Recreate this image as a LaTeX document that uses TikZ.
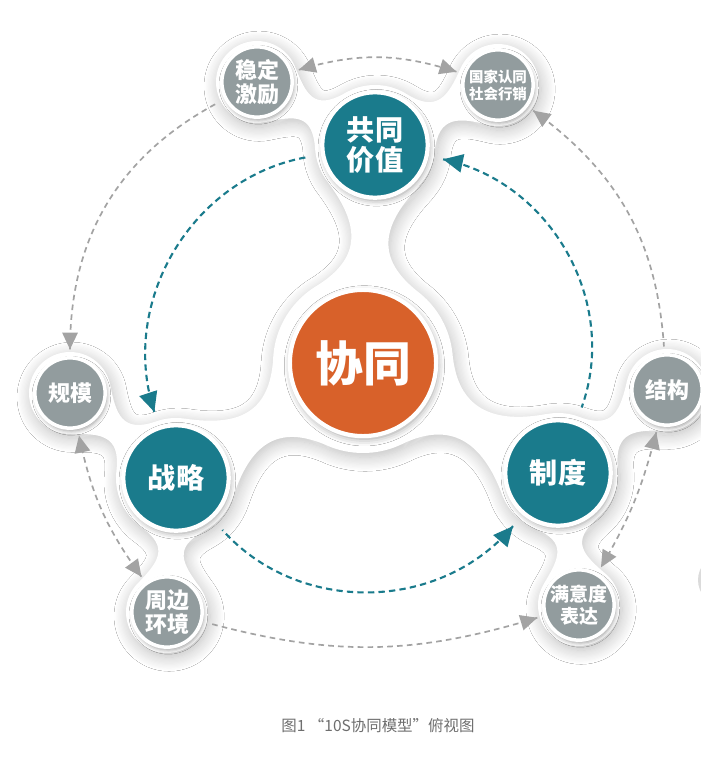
\documentclass[tikz,border=0pt]{standalone}
\usepackage{fontspec}
\newfontfamily\cjk{Noto Sans CJK SC}
\usetikzlibrary{decorations.markings}
\usetikzlibrary{arrows.meta}
\usetikzlibrary{shadows.blur}
\usetikzlibrary{backgrounds}
\definecolor{tealc}{HTML}{1A7B8C}
\definecolor{orangec}{HTML}{D8612A}
\definecolor{sidec}{HTML}{929C9E}
\definecolor{arrowgrey}{HTML}{A3A3A3}
\definecolor{captc}{HTML}{6E6E6E}

\begin{document}
\begin{tikzpicture}[x=0.025cm, y=-0.025cm,
  mid/.style={circle, fill=orangec, draw=white, line width=3pt, minimum size=104pt, inner sep=0pt,
    text=white, font=\cjk\bfseries\fontsize{34}{36}\selectfont,
    blur shadow={shadow blur radius=5pt, shadow opacity=40, shadow xshift=1pt, shadow yshift=-2pt}},
  core/.style={circle, fill=tealc, draw=white, line width=3pt, minimum size=75pt, inner sep=0pt,
    outer sep=12pt, align=center, text=white, font=\cjk\bfseries\fontsize{20}{21.5}\selectfont,
    blur shadow={shadow blur radius=4pt, shadow opacity=40, shadow xshift=1pt, shadow yshift=-2pt}},
  side/.style={circle, fill=sidec, draw=white, line width=2.5pt, minimum size=50pt, inner sep=0pt,
    outer sep=6pt, align=center, text=white, font=\cjk\bfseries\fontsize{15.6}{17.5}\selectfont,
    blur shadow={shadow blur radius=3pt, shadow opacity=40, shadow xshift=1pt, shadow yshift=-2pt}},
  plate/.style={fill=white, blur shadow={shadow blur radius=10pt, shadow blur steps=12,
    shadow xshift=1.5pt, shadow yshift=-3pt, shadow opacity=26}},
  tarrow/.style={tealc, line width=1.5pt, dash pattern=on 4.5pt off 3pt,
    decoration={markings,
      mark=at position 0 with {\arrowreversed[solid]{Triangle[length=14pt, width=13pt]}},
      mark=at position 1 with {\arrow[solid]{Triangle[length=14pt, width=13pt]}}},
    postaction={decorate}},
  garrow/.style={arrowgrey, line width=1.2pt, dash pattern=on 4pt off 3pt,
    decoration={markings,
      mark=at position 0 with {\arrowreversed[solid]{Triangle[length=12pt, width=11pt]}},
      mark=at position 1 with {\arrow[solid]{Triangle[length=12pt, width=11pt]}}},
    postaction={decorate}}]
\useasboundingbox (0,0) rectangle (700,763);

\node[mid] (xt) at (363,363) {协同};
\node[core] (gt) at (375,145) {共同\\价值};
\node[core] (zl) at (176,478) {战略};
\node[core] (zd) at (558,473) {制度};
\node[side] (wd) at (257,82) {稳定\\激励};
\node[side, font=\cjk\bfseries\fontsize{10.3}{12}\selectfont] (gj) at (498,85) {国家认同\\社会行销};
\node[side] (gm) at (70,393) {规模};
\node[side] (zb) at (167,612) {周边\\环境};
\node[side] (jg) at (667,390) {结构};
\node[side, font=\cjk\bfseries\fontsize{13.5}{15.5}\selectfont] (my) at (579,605) {满意度\\表达};
\node[text=captc, font=\cjk\fontsize{11}{13}\selectfont] (cap) at (378,726) {图1 “10S协同模型”俯视图};

% inner ring
\draw[tarrow] (zl) to[bend left=49] (gt);
\draw[tarrow] (gt) to[bend left=49] (zd);
\draw[tarrow] (zd) to[bend left=49] (zl);

% outer ring
\draw[garrow] (gm) to[bend left=31] (wd);
\draw[garrow] (wd) to[bend left=17] (gj);
\draw[garrow] (gj) to[bend left=25] (jg);
\draw[garrow] (jg) to[bend left=8] (my);
\draw[garrow] (my) to[bend left=16] (zb);
\draw[garrow] (zb) to[bend left=12] (gm);

\begin{scope}[on background layer]
\fill[white] (0,0) rectangle (700,763);
\fill[black!14] (724,580) circle [radius=26];
% the white plate, one path
\fill[plate] (xt.center) circle [radius=90]
  foreach \n in {gt, zl, zd} { (\n.center) circle [radius=60] }
  foreach \n in {wd, gj, gm, zb, jg, my} { (\n.center) circle [radius=41] }
  foreach \a/\l in {86.8/218.3, -148.4/219.5, -29.4/223.9} {
    {[shift={(xt.center)}, rotate=\a] (73.7,-51.6) .. controls (105,-6.5) and ({\l-80.7},-10.6) .. ({\l-38.6},-46)
      -- ({\l-38.6},46) .. controls ({\l-80.7},10.6) and (105,6.5) .. (73.7,51.6) -- cycle} }
  foreach \n/\a/\l in {gt/151.9/133.8, gt/26.0/136.9, zl/141.3/135.9, zl/-93.8/134.3, zd/37.3/137, zd/-81.0/133.7} {
    {[shift={(\n.center)}, rotate=\a] (50.9,-31.8) .. controls (70,-1.3) and ({\l-49.4},-12.1) .. ({\l-26.4},-31.4)
      -- ({\l-26.4},31.4) .. controls ({\l-49.4},12.1) and (70,1.3) .. (50.9,31.8) -- cycle} };
\end{scope}
\end{tikzpicture}
\end{document}
